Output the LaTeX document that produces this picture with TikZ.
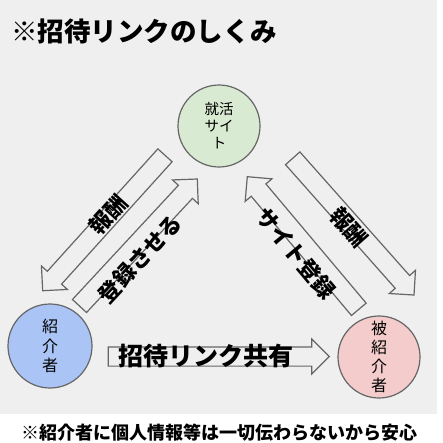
\documentclass[tikz,border=0pt]{standalone}
\usepackage{fontspec}
\setmainfont{Noto Sans CJK JP}
\usetikzlibrary{calc}
\definecolor{bggray}{HTML}{EFEFEF}
\definecolor{edgegray}{HTML}{666666}
\definecolor{cgreen}{HTML}{D9EAD3}
\definecolor{cblue}{HTML}{A9C4F5}
\definecolor{cpink}{HTML}{F4CCCC}
\newcommand{\abw}{9.6}
\newcommand{\ahw}{17.5}
\newcommand{\ahl}{17.5}
\newcommand{\blockarrow}[2]{%
  \path ($(#2)!\ahl pt!(#1)$) coordinate (neck);
  \draw[blockarr] ($(#1)!\abw pt!-90:(#2)$) -- ($(neck)!\abw pt!-90:(#2)$)
    -- ($(neck)!\ahw pt!-90:(#2)$) -- (#2) -- ($(neck)!\ahw pt!90:(#2)$)
    -- ($(neck)!\abw pt!90:(#2)$) -- ($(#1)!\abw pt!90:(#2)$) -- cycle;}
\begin{document}
\begin{tikzpicture}[x=1pt,y=-1pt,
  circ/.style={circle, draw=edgegray, line width=1.2pt, inner sep=0pt, align=center},
  blockarr/.style={draw=edgegray, fill=bggray, line width=1.2pt, line join=miter},
  lbl/.style={inner sep=0pt, font=\bfseries\fontsize{22}{22}\selectfont}]
\useasboundingbox (0,0) rectangle (443,442);
\fill[white] (0,0) rectangle (443,442);
\fill[bggray] (0,0) rectangle (437,414);
% title
\node[anchor=west, inner sep=0pt, font=\bfseries\fontsize{26.5}{26.5}\selectfont] (title) at (11,31) {※招待リンクのしくみ};
% circles
\node[circ, fill=cgreen, minimum size=82pt, font=\fontsize{14.5}{17}\selectfont] (site) at (219,126) {就活\\サイ\\ト};
\node[circ, fill=cblue, minimum size=84pt, font=\fontsize{16}{19.5}\selectfont] (ref) at (50,346) {紹\\介\\者};
\node[circ, fill=cpink, minimum size=82pt, font=\fontsize{16}{19}\selectfont] (refd) at (379,357) {被\\紹\\介\\者};
% arrow end points
\coordinate (a1s) at (165,155.3); \coordinate (a1e) at (42.7,290.7);
\coordinate (a2s) at (79.5,306);  \coordinate (a2e) at (197.3,179);
\coordinate (a3s) at (358.8,309.3); \coordinate (a3e) at (247.3,176.7);
\coordinate (a4s) at (292.7,158.3); \coordinate (a4e) at (414,295);
\coordinate (a5s) at (108.3,356.5); \coordinate (a5e) at (329.3,356.5);
\blockarrow{a1s}{a1e}
\blockarrow{a2s}{a2e}
\blockarrow{a3s}{a3e}
\blockarrow{a4s}{a4e}
\blockarrow{a5s}{a5e}
% labels
\node[lbl, rotate=47.9] (l1) at (108,215) {報酬};
\node[lbl, rotate=47.2] (l2) at (140,259) {登録させる};
\node[lbl, rotate=-50] (l3) at (296,253.5) {サイト登録};
\node[lbl, rotate=-48.4] (l4) at (349,227.5) {報酬};
\node[lbl, font=\bfseries\fontsize{25}{25}\selectfont] (l5) at (205.5,356.5) {招待リンク共有};
% note
\node[inner sep=0pt, font=\bfseries\fontsize{18}{18}\selectfont] (note) at (219.5,433) {※紹介者に個人情報等は一切伝わらないから安心};
\end{tikzpicture}
\end{document}
